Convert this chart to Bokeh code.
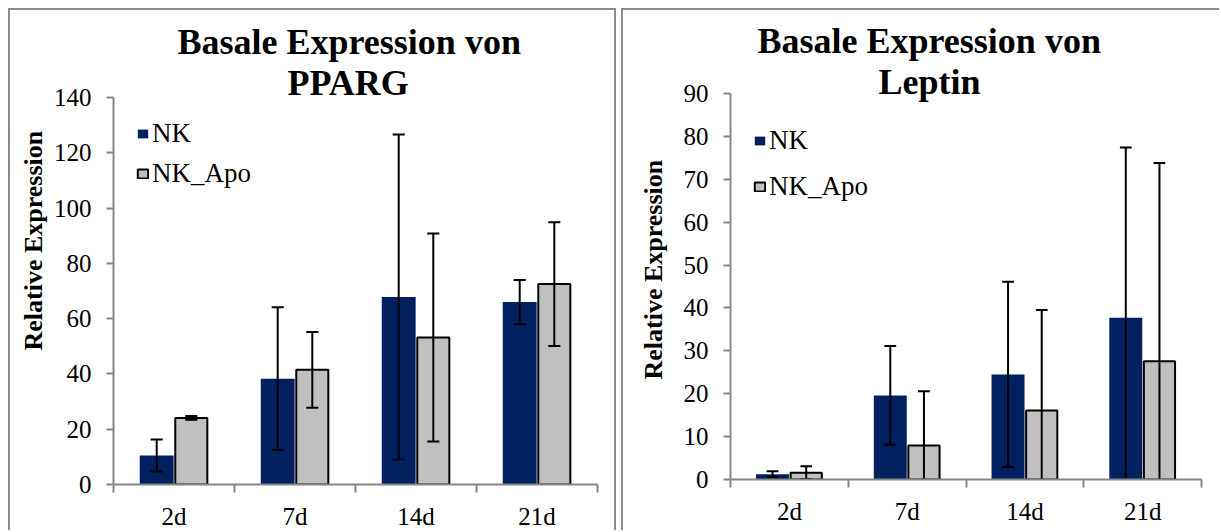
import numpy as np
from bokeh.plotting import figure
from bokeh.models import Range1d, FixedTicker, Legend, LegendItem, Title, ColumnDataSource
from bokeh.layouts import row
from bokeh.embed import file_html
from bokeh.resources import INLINE

categories = ["2d", "7d", "14d", "21d"]
series = ["NK", "NK_Apo"]

pparg_nk = [10.5, 38.3, 67.8, 66.0]
pparg_nk_err = [5.8, 25.8, 58.8, 8.0]
pparg_apo = [24.1, 41.5, 53.2, 72.5]
pparg_apo_err = [0.7, 13.7, 37.6, 22.4]

leptin_nk = [1.2, 19.6, 24.5, 37.7]
leptin_nk_err = [0.7, 11.5, 21.6, 39.7]
leptin_apo = [1.6, 7.9, 16.1, 27.6]
leptin_apo_err = [1.5, 12.7, 23.4, 46.2]

pparg_ticks = [0, 20, 40, 60, 80, 100, 120, 140]
leptin_ticks = [0, 10, 20, 30, 40, 50, 60, 70, 80, 90]

NAVY = "#002060"
GRAY = "#C0C0C0"
AXIS = "#868686"
BORDER = "2px solid #8c8c8c"
SERIF = "Liberation Serif"


def make_panel(gene, nk, nk_err, apo, apo_err, ticks, width, height,
               left, top, frame_w, frame_h, t1_off, t2_off, t1_stand, t2_stand,
               ylab_off, ylab_standoff, xlab_standoff, legend_x, legend_top,
               legend_spacing, styles):
    ymax = ticks[-1]
    p = figure(width=width, height=height, output_backend="svg", toolbar_location=None,
               title=None,
               x_range=Range1d(0, len(categories)), y_range=Range1d(0, ymax),
               min_border_left=left, min_border_top=top,
               min_border_right=width - left - frame_w,
               min_border_bottom=height - top - frame_h)
    if "frame_align" in p.properties():
        p.frame_align = False
    p.outline_line_color = None
    p.xgrid.visible = False
    p.ygrid.visible = False
    p.background_fill_color = "white"
    p.border_fill_color = "white"
    p.styles = styles

    centers = np.arange(len(categories)) + 0.5
    off = 0.143
    bw = 0.28
    src_nk = ColumnDataSource(dict(x=centers - off, top=nk,
                                   lo=np.array(nk) - np.array(nk_err),
                                   hi=np.array(nk) + np.array(nk_err)))
    src_apo = ColumnDataSource(dict(x=centers + off, top=apo,
                                    lo=np.array(apo) - np.array(apo_err),
                                    hi=np.array(apo) + np.array(apo_err)))
    r_nk = p.vbar(x="x", top="top", width=bw, bottom=0, source=src_nk,
                  fill_color=NAVY, line_color=None)
    r_apo = p.vbar(x="x", top="top", width=bw - 0.015, bottom=0, source=src_apo,
                   fill_color=GRAY, line_color="black", line_width=2)

    cap = 0.05
    for src in (src_nk, src_apo):
        d = src.data
        xs = np.array(d["x"])
        p.segment(x0=xs, y0=d["lo"], x1=xs, y1=d["hi"], line_color="black", line_width=2)
        p.segment(x0=xs - cap, y0=d["hi"], x1=xs + cap, y1=d["hi"], line_color="black", line_width=2)
        p.segment(x0=xs - cap, y0=d["lo"], x1=xs + cap, y1=d["lo"], line_color="black", line_width=2)

    # x axis: labels at category centres, tick marks at category boundaries
    p.xaxis.ticker = FixedTicker(ticks=list(centers), minor_ticks=list(range(len(categories) + 1)))
    p.xaxis.major_label_overrides = {float(c): cat for c, cat in zip(centers, categories)}
    p.xaxis.major_tick_line_color = None
    p.xaxis.major_tick_out = 0
    p.xaxis.major_tick_in = 0
    p.xaxis.minor_tick_line_color = AXIS
    p.xaxis.minor_tick_line_width = 2
    p.xaxis.minor_tick_out = 8
    p.xaxis.minor_tick_in = 0
    p.xaxis.axis_line_color = AXIS
    p.xaxis.axis_line_width = 2
    p.xaxis.major_label_standoff = xlab_standoff
    p.xaxis.major_label_text_font = SERIF
    p.xaxis.major_label_text_font_size = "25px"
    p.xaxis.major_label_text_color = "black"

    p.yaxis.ticker = FixedTicker(ticks=ticks, minor_ticks=[])
    p.yaxis.axis_line_color = AXIS
    p.yaxis.axis_line_width = 2
    p.yaxis.major_tick_line_color = AXIS
    p.yaxis.major_tick_line_width = 2
    p.yaxis.major_tick_out = 7
    p.yaxis.major_tick_in = 0
    p.yaxis.minor_tick_line_color = None
    p.yaxis.major_label_standoff = 15
    p.yaxis.major_label_text_font = SERIF
    p.yaxis.major_label_text_font_size = "25px"
    p.yaxis.major_label_text_color = "black"

    # two-line chart title (first added sits closest to the plot)
    for txt, o, s in ((gene, t2_off, t2_stand), ("Basale Expression von", t1_off, t1_stand)):
        p.add_layout(Title(text=txt, align="left", offset=o, standoff=s,
                           text_font=SERIF, text_font_style="bold",
                           text_font_size="36px", text_color="black"), "above")
    # y-axis title
    p.add_layout(Title(text="Relative Expression", align="left", offset=ylab_off,
                       standoff=ylab_standoff, text_font=SERIF, text_font_style="bold",
                       text_font_size="26px", text_color="black"), "left")

    legend = Legend(items=[LegendItem(label=series[0], renderers=[r_nk]),
                           LegendItem(label=series[1], renderers=[r_apo])])
    legend.glyph_width = 13
    legend.glyph_height = 11
    legend.label_standoff = 3
    legend.label_text_font = SERIF
    legend.label_text_font_size = "27px"
    legend.label_text_color = "black"
    legend.label_height = 20
    legend.spacing = legend_spacing
    legend.padding = 0
    legend.margin = 0
    legend.border_line_color = None
    legend.background_fill_alpha = 0
    item_h = 32
    leg_h = 2 * item_h + legend_spacing
    legend.location = (legend_x, frame_h - legend_top - leg_h)
    p.add_layout(legend, "center")
    return p


left = make_panel("PPARG", pparg_nk, pparg_nk_err, pparg_apo, pparg_apo_err, pparg_ticks,
                  width=604, height=520, left=103, top=87, frame_w=480, frame_h=387,
                  t1_off=64, t2_off=174, t1_stand=8, t2_stand=-10,
                  ylab_off=134, ylab_standoff=6, xlab_standoff=10,
                  legend_x=23, legend_top=19, legend_spacing=9,
                  styles={"box-sizing": "content-box", "border-top": BORDER,
                          "border-left": BORDER, "border-right": BORDER})

right = make_panel("Leptin", leptin_nk, leptin_nk_err, leptin_apo, leptin_apo_err, leptin_ticks,
                   width=596, height=520, left=104, top=83, frame_w=472, frame_h=384,
                   t1_off=27, t2_off=148, t1_stand=14, t2_stand=-16,
                   ylab_off=100, ylab_standoff=26, xlab_standoff=10,
                   legend_x=23, legend_top=28, legend_spacing=15,
                   styles={"box-sizing": "content-box", "border-top": BORDER,
                           "border-left": BORDER})

layout = row(left, right, spacing=5, styles={"margin-left": "8px", "margin-top": "8px"})
open("out.html", "w").write(file_html(layout, INLINE))
